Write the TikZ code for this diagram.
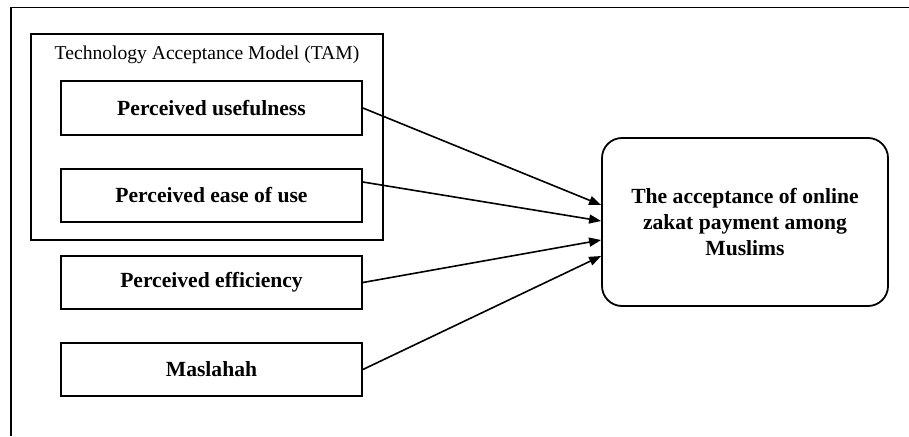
\documentclass[tikz,border=0pt]{standalone}
\usepackage{fontspec}
\setmainfont{Liberation Serif}
\usepackage{tikz}
\usetikzlibrary{arrows.meta, positioning, calc}
\tikzset{
  factor/.style={draw, line width=1.8pt, minimum width=301pt, minimum height=53pt,
    inner sep=0pt, font=\fontsize{21.6}{26}\selectfont\bfseries},
  outcome/.style={draw, line width=1.8pt, rounded corners=20pt, minimum width=286pt,
    minimum height=168pt, inner sep=0pt, align=center, font=\fontsize{21.6}{26}\selectfont\bfseries},
  link/.style={line width=1.6pt, -{Triangle[length=12pt, width=9pt]}}
}
\begin{document}
\begin{tikzpicture}[x=1pt, y=-1pt]
      \useasboundingbox (0,0) rectangle (909,436);
      % Outer frame (top and left only)
      \coordinate (frameTL) at (11,7.5);
      \coordinate (frameTR) at (909,7.5);
      \coordinate (frameBL) at (11,436);
      \draw[line width=1.8pt] (frameTR) -- (frameTL) -- (frameBL);
      % TAM group
      \node[draw, line width=1.8pt, minimum width=352pt, minimum height=206pt, inner sep=0pt] (tam) at (207,137) {};
      \node[font=\fontsize{19.6}{23}\selectfont] (tamlabel) at (207,55) {Technology Acceptance Model (TAM)};
      % Factors
      \node[factor, minimum height=54pt] (pu) at (211.5,108) {Perceived usefulness};
      \node[factor] (pe) at (211.5,195.5) {Perceived ease of use};
      \node[factor] (pf) at (211.5,282.5) {Perceived efficiency};
      \node[factor] (ms) at (211.5,369.5) {Maslahah};
      % Outcome
      \node[outcome] (acc) at (745,222) {The acceptance of online\\zakat payment among\\Muslims};
      % Arrows into the outcome
      \coordinate (in1) at ($(acc.west)+(0,-17)$);
      \coordinate (in2) at ($(acc.west)+(0,-1)$);
      \coordinate (in3) at ($(acc.west)+(0,18)$);
      \coordinate (in4) at ($(acc.west)+(0,34)$);
      \draw[link] (pu.east) -- (in1);
      \draw[link] ($(pe.east)+(0,-13.5)$) -- (in2);
      \draw[link] (pf.east) -- (in3);
      \draw[link] (ms.east) -- (in4);
    \end{tikzpicture}
\end{document}
